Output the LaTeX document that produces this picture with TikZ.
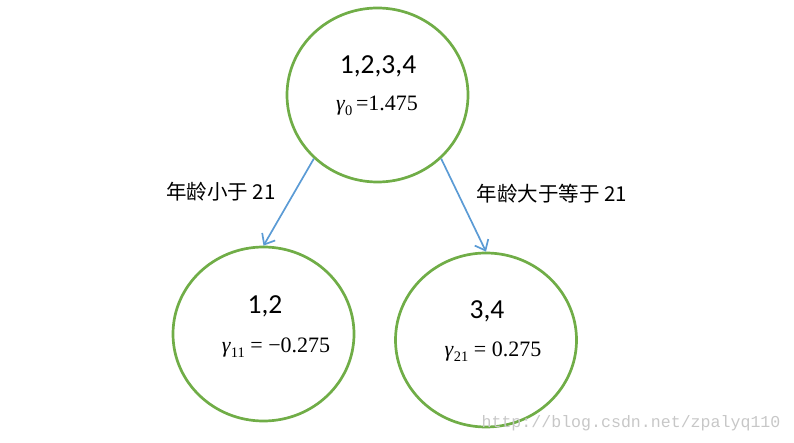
\documentclass[tikz,border=0pt]{standalone}
\usepackage{fontspec}
\setmainfont{Carlito}
\newfontfamily\tnr{Liberation Serif}
\newfontfamily\cjk{Noto Sans CJK SC}
\newfontfamily\wmfont{Liberation Mono}
\usetikzlibrary{shapes.geometric,arrows.meta}
\definecolor{treegreen}{RGB}{112,173,71}
\definecolor{edgeblue}{RGB}{91,155,213}
\newcommand{\gam}[2]{{\tnr\fontsize{22}{26}\selectfont\textit{γ}\raisebox{-4.5pt}{\fontsize{14.5}{15}\selectfont #1}#2}}
\begin{document}
\begin{tikzpicture}[x=1pt,y=-1pt,
  set/.style={ellipse,draw=treegreen,line width=2.7pt,minimum width=181pt,minimum height=174pt,inner sep=0pt},
  split/.style={draw=edgeblue,line width=1.7pt,-{Straight Barb[length=9pt,width=15pt]}},
  ids/.style={font=\fontsize{27.5}{32}\selectfont,inner sep=0pt},
  cond/.style={font=\cjk\fontsize{20.5}{24}\selectfont,inner sep=0pt}]
  \useasboundingbox (0,0) rectangle (794,443);
  % tree nodes
  \node[set] (root) at (377.5,95) {};
  \node[set] (left) at (263.5,334) {};
  \node[set] (right) at (486,340) {};
  % sample sets and residual means
  \node[ids] (s0) at (378,66) {1,2,3,4};
  \node[inner sep=0pt] (g0) at (377,106) {\gam{0}{\,=1.475}};
  \node[ids] (s1) at (265,306) {1,2};
  \node[inner sep=0pt] (g1) at (276,348) {\gam{11}{\ = −0.275}};
  \node[ids] (s2) at (487,311) {3,4};
  \node[inner sep=0pt] (g2) at (493,352) {\gam{21}{\ = 0.275}};
  % splits
  \draw[split] (root.-135) -- (left.north);
  \draw[split] (root.-45) -- (right.north);
  \node[cond] (lt) at (221,192) {年龄小于 21};
  \node[cond] (ge) at (552,194) {年龄大于等于 21};
  \node[font=\wmfont\fontsize{16.6}{18}\selectfont,text=black!22,inner sep=0pt] (mark) at (631,423) {http://blog.csdn.net/zpalyq110};
\end{tikzpicture}
\end{document}
